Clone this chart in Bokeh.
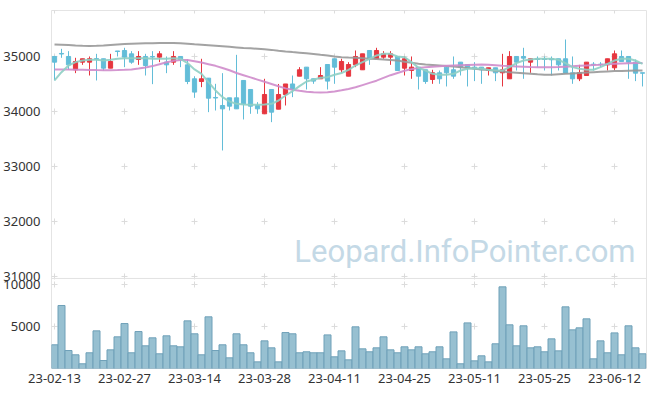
from bokeh.plotting import figure
from bokeh.models import Range1d, FixedTicker, Label, Span, ColumnDataSource
from bokeh.embed import file_html
from bokeh.resources import INLINE

# ---------------- data ----------------
tick_index = [0, 10, 20, 30, 40, 50, 60, 70, 80]
tick_labels = ["23-02-13", "23-02-27", "23-03-14", "23-03-28", "23-04-11",
               "23-04-25", "23-05-11", "23-05-25", "23-06-12"]
price_ticks = [31000, 32000, 33000, 34000, 35000]
volume_ticks = [5000, 10000]

opens = [35000, 35055, 35000, 34758, 34897, 34897, 34960, 34958, 34788, 35100,
         35109, 35048, 34945, 35000, 35000, 34988, 34897, 34897, 35000, 34848,
         34594, 34545, 34606, 34255, 34109, 34248, 34248, 34564, 34400, 34109,
         33958, 34400, 34042, 34309, 34500, 34642, 34806, 34594, 34594, 34854,
         34958, 34758, 34642, 34848, 34758, 35109, 34958, 34988, 34988, 35000,
         34788, 34745, 34806, 34758, 34582, 34703, 34806, 34758, 34897, 34854,
         34806, 34806, 34745, 34794, 34703, 34594, 35000, 35000, 34897, 34958,
         34958, 34958, 34958, 34958, 34703, 34594, 34654, 34860, 34860, 34848,
         34794, 35000, 35000, 34897, 34703]
highs = [35010, 35139, 35097, 34976, 34958, 35000, 35048, 34958, 35048, 35100,
         35158, 35097, 35097, 35048, 35097, 35097, 35000, 35097, 35000, 34945,
         34640, 34958, 34606, 34503, 34697, 34248, 35030, 34564, 34400, 34170,
         34594, 34400, 34500, 34500, 34654, 34806, 34806, 34594, 34806, 34854,
         34958, 34958, 34897, 35109, 35048, 35109, 35158, 35097, 35097, 35000,
         35000, 35000, 34806, 34758, 34758, 34745, 34806, 35000, 34897, 34854,
         34897, 34806, 34794, 34794, 35048, 35097, 35000, 35158, 34958, 35000,
         35000, 35000, 34958, 35309, 35000, 34848, 34897, 34897, 34897, 34958,
         35109, 35109, 35000, 34945, 34703]
lows = [34564, 34976, 34758, 34697, 34848, 34654, 34564, 34745, 34788, 35000,
        34806, 34867, 34848, 34654, 34497, 34897, 34697, 34848, 34806, 34497,
        34248, 34442, 33988, 34018, 33291, 34018, 34048, 33855, 33958, 33958,
        33958, 33806, 34042, 34109, 34261, 34642, 34400, 34503, 34594, 34400,
        34503, 34703, 34642, 34806, 34758, 34848, 34958, 34958, 34848, 34745,
        34654, 34594, 34400, 34503, 34503, 34503, 34455, 34594, 34654, 34455,
        34552, 34503, 34654, 34552, 34455, 34594, 34745, 34594, 34703, 34806,
        34745, 34654, 34745, 34697, 34503, 34552, 34654, 34745, 34806, 34745,
        34745, 34909, 34594, 34552, 34455]
closes = [34897, 35045, 34848, 34909, 34958, 34958, 34950, 34788, 34909, 35090,
          34988, 34897, 35000, 34836, 34990, 35048, 34848, 35000, 34945, 34545,
          34352, 34594, 34242, 34245, 34048, 34097, 34048, 34139, 34097, 34048,
          34309, 33988, 34309, 34500, 34400, 34758, 34594, 34552, 34654, 34552,
          34806, 34909, 34854, 35000, 35048, 34958, 35109, 35048, 35048, 34745,
          34958, 34806, 34642, 34545, 34703, 34594, 34703, 34642, 34806, 34794,
          34776, 34758, 34794, 34703, 34758, 35000, 34897, 34970, 34958, 34945,
          34945, 34940, 34848, 34697, 34594, 34703, 34897, 34848, 34854, 34958,
          35048, 34909, 34897, 34697, 34697]
ma_short = [34564, 34715, 34836, 34897, 34927, 34940, 34940, 34927, 34940, 34958,
            34970, 34970, 34970, 34970, 34958, 34958, 34958, 34970, 34958, 34880,
            34765, 34685, 34533, 34382, 34261, 34182, 34139, 34127, 34121, 34121,
            34127, 34139, 34200, 34291, 34370, 34460, 34545, 34576, 34612, 34624,
            34667, 34700, 34758, 34836, 34897, 34958, 35018, 35048, 35048, 35000,
            34988, 34897, 34794, 34745, 34685, 34667, 34667, 34685, 34745, 34776,
            34788, 34776, 34758, 34745, 34745, 34806, 34879, 34927, 34945, 34958,
            34958, 34958, 34940, 34879, 34806, 34776, 34758, 34758, 34806, 34867,
            34927, 34958, 34958, 34927, 34867]
ma_mid = [34764, 34764, 34762, 34760, 34758, 34755, 34752, 34750, 34750, 34752,
          34758, 34765, 34780, 34800, 34825, 34860, 34895, 34920, 34935, 34935,
          34915, 34890, 34860, 34830, 34790, 34750, 34700, 34660, 34620, 34580,
          34540, 34500, 34460, 34420, 34395, 34375, 34360, 34350, 34345, 34350,
          34365, 34385, 34410, 34440, 34480, 34520, 34560, 34610, 34660, 34700,
          34740, 34770, 34790, 34805, 34815, 34822, 34830, 34836, 34842, 34846,
          34850, 34852, 34850, 34842, 34832, 34825, 34820, 34815, 34810, 34806,
          34805, 34805, 34808, 34815, 34822, 34830, 34838, 34845, 34850, 34858,
          34866, 34874, 34878, 34880, 34880]
ma_long = [35220, 35215, 35210, 35200, 35195, 35192, 35195, 35200, 35210, 35220,
           35228, 35232, 35236, 35240, 35242, 35243, 35244, 35244, 35240, 35232,
           35222, 35215, 35205, 35195, 35185, 35175, 35165, 35155, 35148, 35140,
           35130, 35120, 35105, 35092, 35080, 35070, 35058, 35045, 35030, 35018,
           35000, 34988, 34980, 34975, 34968, 34960, 34952, 34945, 34935, 34925,
           34905, 34885, 34868, 34855, 34845, 34835, 34825, 34818, 34805, 34790,
           34775, 34764, 34752, 34740, 34728, 34715, 34705, 34695, 34685, 34675,
           34668, 34670, 34678, 34685, 34692, 34700, 34708, 34715, 34722, 34728,
           34734, 34738, 34741, 34743, 34745]
volume = [2820, 7500, 2140, 1630, 560, 1870, 4480, 950, 2220, 3770,
          5350, 1870, 4400, 2700, 3650, 1750, 3890, 2700, 2580, 5670,
          4130, 1630, 6150, 2140, 2820, 1270, 4130, 2820, 1870, 790,
          3290, 2460, 790, 4280, 4130, 1870, 1990, 1870, 1870, 4000,
          1390, 2100, 1030, 4960, 2340, 1990, 2460, 3770, 2220, 1870,
          2580, 2220, 2580, 1750, 1990, 2580, 1150, 4360, 560, 5430,
          910, 1510, 790, 2940, 9720, 5200, 2700, 5080, 2460, 2580,
          1990, 3530, 2100, 7340, 4600, 4840, 5910, 1150, 3290, 1870,
          4240, 1630, 5080, 2460, 1750]

# ---------------- layout constants ----------------
P_TOP, P_BOT = 35836, 29327      # price range shown over the whole frame
V_TOP = 42619                     # volume range top (volume panel lives at the bottom)
PANEL_SPLIT = 30964               # boundary line between the two panels (price units)

RED = "#e6363f"
BLUE = "#63bdd8"

n = len(opens)
idx = list(range(n))

p = figure(width=649, height=394, output_backend="svg", toolbar_location=None,
           x_range=Range1d(-0.43, n - 0.43), y_range=Range1d(P_BOT, P_TOP),
           min_border_left=51, min_border_right=3, min_border_top=10,
           min_border_bottom=26, background_fill_color="white")
p.extra_y_ranges = {"vol": Range1d(0, V_TOP)}

# volume ticks expressed in the price axis coordinates (single shared left axis)
def vol_to_price(v):
    return P_BOT + v / V_TOP * (P_TOP - P_BOT)

vol_tick_pos = [round(vol_to_price(v)) for v in volume_ticks]

# grid crosses
cross_y = price_ticks + vol_tick_pos + [P_TOP]
cx = [x for x in tick_index for _ in cross_y]
cy = [y for _ in tick_index for y in cross_y]
p.scatter(cx, cy, marker="cross", size=6, line_color="#dcdcdc", line_width=1)

# separator between panels
p.add_layout(Span(location=PANEL_SPLIT, dimension="width",
                  line_color="#e2e2e2", line_width=1))

# volume bars
p.vbar(x=idx, top=volume, bottom=0, width=1.0, y_range_name="vol",
       fill_color="#97c0d1", line_color="#6fa0b8", line_width=1)

# candles
colors = [RED if c > o else BLUE for o, c in zip(opens, closes)]
src = ColumnDataSource(dict(
    x=idx, o=opens, h=highs, l=lows, c=closes,
    top=[max(o, c) for o, c in zip(opens, closes)],
    bot=[min(o, c) for o, c in zip(opens, closes)],
    color=colors))
p.segment(x0="x", y0="l", x1="x", y1="h", color="color", line_width=1, source=src)
p.vbar(x="x", top="top", bottom="bot", width=0.6, fill_color="color",
       line_color="color", line_width=1, source=src)

# moving averages
p.line(idx, ma_long, line_color="#999999", line_width=2, line_alpha=0.9)
p.line(idx, ma_mid, line_color="#cf8ccb", line_width=2, line_alpha=0.9)
p.line(idx, ma_short, line_color="#8fcfc4", line_width=2, line_alpha=0.9)

# watermark
p.add_layout(Label(x=83.0, y=31454, text="Leopard.InfoPointer.com",
                   text_align="right", text_baseline="alphabetic",
                   text_font="Roboto", text_font_size="31px",
                   text_color="#c4d9e6"))

# axes
p.xgrid.grid_line_color = None
p.ygrid.grid_line_color = None
p.outline_line_color = "#e4e4e4"

p.xaxis.ticker = FixedTicker(ticks=tick_index)
p.xaxis.major_label_overrides = {t: lab for t, lab in zip(tick_index, tick_labels)}
p.yaxis.ticker = FixedTicker(ticks=vol_tick_pos + price_ticks)
p.yaxis.major_label_overrides = {t: str(v) for t, v in zip(vol_tick_pos, volume_ticks)}
p.yaxis.formatter.use_scientific = False

for ax in (p.xaxis, p.yaxis):
    ax.axis_line_color = None
    ax.major_tick_line_color = None
    ax.minor_tick_line_color = None
    ax.major_label_text_font = "Noto Sans"
    ax.major_label_text_font_size = "13px"
    ax.major_label_text_color = "#333333"
p.xaxis.major_label_standoff = -1
p.yaxis.major_label_standoff = 5

open("out.html", "w").write(file_html(p, INLINE))
